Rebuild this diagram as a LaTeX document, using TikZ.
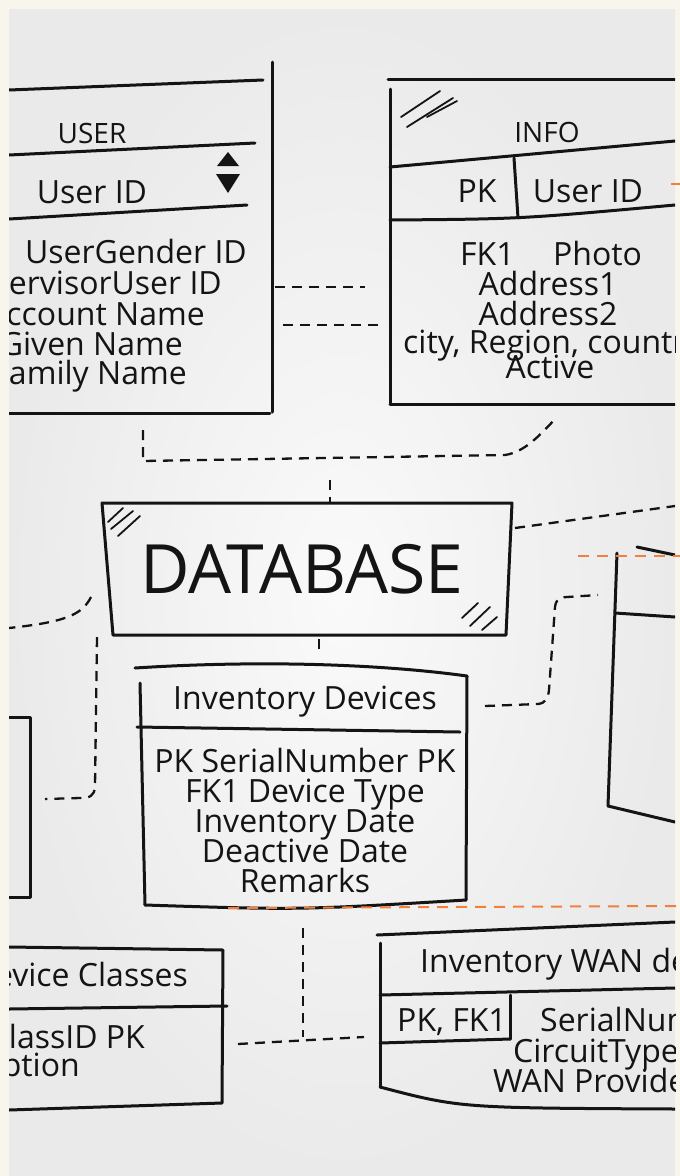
\documentclass[tikz,border=0pt]{standalone}
\usepackage{fontspec}
\setmainfont{Open Sans}
\usepackage{xcolor}

\definecolor{paper}{RGB}{248,246,236}
\definecolor{boardin}{RGB}{250,250,250}
\definecolor{boardout}{RGB}{234,234,234}
\definecolor{ink}{RGB}{20,20,20}
\definecolor{marker}{RGB}{241,128,62}

\tikzset{
	boxline/.style={ink, line width=3pt, line cap=round, line join=round},
	dashlink/.style={ink, line width=2.3pt, dash pattern=on 10pt off 7pt},
	orangeguide/.style={marker, line width=2pt, dash pattern=on 11pt off 8pt},
	hatchline/.style={ink, line width=1.8pt, line cap=round},
	fieldtext/.style={ink, inner sep=0pt, font=\fontsize{32}{32}\selectfont},
	headtext/.style={ink, inner sep=0pt, font=\fontsize{28}{28}\selectfont},
	bigtext/.style={ink, inner sep=0pt, font=\fontsize{68}{68}\selectfont}
}

\begin{document}
\begin{tikzpicture}[x=1pt,y=-1pt]
			% фон
			\useasboundingbox (0,0) rectangle (680,1176);
			\fill [paper] (0,0) rectangle (680,1176);
			\shade [inner color=boardin, outer color=boardout] (9,9) rectangle (675,1176);
			\begin{scope}
			\clip (9,9) rectangle (675,1176);
			% таблица USER
			\draw [boxline] (9,90) -- (263,80);
			\draw [boxline] (272,62) -- (272,412);
			\draw [boxline] (9,155) -- (255,143);
			\draw [boxline] (9,219) -- (247,205);
			\draw [boxline] (9,413) -- (270,413);
			\fill [ink] (217,166) -- (239,166) -- (228,152) -- cycle;
			\fill [ink] (216,174) -- (240,174) -- (228,193) -- cycle;
			\node [headtext, anchor=base] (user) at (92,143) {USER};
			\node [fieldtext, anchor=base] (userid) at (92,203) {User ID};
			\node [fieldtext, anchor=base east] (gender) at (247,263) {UserGender ID};
			\node [fieldtext, anchor=base east] (supervisor) at (222,294) {SupervisorUser ID};
			\node [fieldtext, anchor=base east] (account) at (205,325) {Account Name};
			\node [fieldtext, anchor=base east] (given) at (183,355) {Given Name};
			\node [fieldtext, anchor=base east] (family) at (187,384) {Family Name};
			% таблица INFO
			\draw [boxline] (388,79) -- (675,79);
			\draw [boxline] (390,89) -- (390,404);
			\draw [hatchline] (401,117) -- (440,91);
			\draw [hatchline] (407,127) -- (453,98);
			\draw [hatchline] (427,117) -- (457,101);
			\draw [boxline] (390,167) -- (675,141);
			\draw [boxline] (514,158) -- (518,218);
			\draw [boxline] (390,220) .. controls (520,219) .. (675,205);
			\draw [boxline] (390,404) -- (675,404);
			\node [headtext, anchor=base] (info) at (547,142) {INFO};
			\node [fieldtext, anchor=base] (infopk) at (477,202) {PK};
			\node [fieldtext, anchor=base] (infouid) at (588,202) {User ID};
			\node [fieldtext, anchor=base west] (infofk) at (460,265) {FK1};
			\node [fieldtext, anchor=base west] (photo) at (553,265) {Photo};
			\node [fieldtext, anchor=base] (addr1) at (548,295) {Address1};
			\node [fieldtext, anchor=base] (addr2) at (548,325) {Address2};
			\node [fieldtext, anchor=base west] (city) at (403,353) {city, Region, country};
			\node [fieldtext, anchor=base] (active) at (550,378) {Active};
			% DATABASE
			\draw [boxline] (102,503) -- (512,503) -- (506,635) -- (113,635) -- cycle;
			\draw [hatchline] (108,522) -- (123,508);
			\draw [hatchline] (111,529) -- (133,511);
			\draw [hatchline] (118,536) -- (140,516);
			\draw [hatchline] (462,618) -- (478,603);
			\draw [hatchline] (470,626) -- (490,607);
			\draw [hatchline] (482,630) -- (497,617);
			\node [bigtext, anchor=base] (db) at (302,593) {DATABASE};
			% таблица Inventory Devices
			\draw [boxline] (135,668) .. controls (260,660) and (380,664) .. (467,676);
			\draw [boxline] (140,683) -- (145,905);
			\draw [boxline] (467,676) -- (466,900);
			\draw [boxline] (137,727) -- (460,732);
			\draw [boxline] (145,905) .. controls (300,910) .. (466,900);
			\node [fieldtext, anchor=base] (inv) at (305,709) {Inventory Devices};
			\node [fieldtext, anchor=base] (serial) at (305,772) {PK SerialNumber PK};
			\node [fieldtext, anchor=base] (devtype) at (305,802) {FK1 Device Type};
			\node [fieldtext, anchor=base] (invdate) at (305,832) {Inventory Date};
			\node [fieldtext, anchor=base] (deact) at (305,862) {Deactive Date};
			\node [fieldtext, anchor=base] (remarks) at (305,892) {Remarks};
			% таблицы по краям
			\draw [boxline] (637,547) -- (675,555);
			\draw [boxline] (617,553) -- (608,806);
			\draw [boxline] (615,613) -- (675,617);
			\draw [boxline] (608,806) -- (675,822);
			\draw [boxline] (9,717) -- (30,717) -- (30,897) -- (9,897);
			% таблица Device Classes
			\draw [boxline] (9,947) -- (223,950) -- (222,1103) -- (9,1110);
			\draw [boxline] (9,1009) -- (227,1006);
			\node [fieldtext, anchor=base east] (classes) at (188,986) {Device Classes};
			\node [fieldtext, anchor=base east] (classid) at (145,1048) {ClassID PK};
			\node [fieldtext, anchor=base east] (descr) at (80,1076) {Description};
			% таблица Inventory WAN devices
			\draw [boxline] (377,935) -- (675,922);
			\draw [boxline] (380,943) -- (380,1087);
			\draw [boxline] (380,995) -- (675,988);
			\draw [boxline] (510,995) -- (510,1039);
			\draw [boxline] (380,1043) -- (510,1039);
			\draw [boxline] (380,1087) .. controls (460,1108) .. (675,1109);
			\node [fieldtext, anchor=base west] (wan) at (420,972) {Inventory WAN devices};
			\node [fieldtext, anchor=base] (wanpk) at (452,1031) {PK, FK1};
			\node [fieldtext, anchor=base west] (wanserial) at (540,1031) {SerialNumber};
			\node [fieldtext, anchor=base west] (circuit) at (513,1062) {CircuitType};
			\node [fieldtext, anchor=base west] (provider) at (493,1092) {WAN Provider};
			% связи
			\draw [dashlink] (275,287) -- (365,287);
			\draw [dashlink] (283,325) -- (378,325);
			\draw [dashlink] (143,430) -- (143,461) -- (505,455) .. controls (525,452) and (540,435) .. (557,417);
			\draw [dashlink] (330,480) -- (330,502);
			\draw [dashlink] (515,528) -- (675,506);
			\draw [dashlink] (91,597) .. controls (82,615) and (65,622) .. (9,628);
			\draw [dashlink] (97,637) -- (95,787) .. controls (94,796) and (90,798) .. (80,798) -- (45,799);
			\draw [dashlink] (319,639) -- (319,651);
			\draw [dashlink] (485,706) -- (538,704) .. controls (546,703) and (548,698) .. (549,690) -- (555,607) .. controls (556,599) and (560,597) .. (567,597) -- (598,595);
			\draw [dashlink] (303,928) -- (303,1037);
			\draw [dashlink] (238,1044) -- (364,1037);
			\end{scope}
			% оранжевые направляющие
			\draw [orangeguide] (578,556) -- (680,556);
			\draw [orangeguide] (228,908) -- (680,906);
			\draw [orangeguide] (671,184) -- (680,184);
\end{tikzpicture}
\end{document}
